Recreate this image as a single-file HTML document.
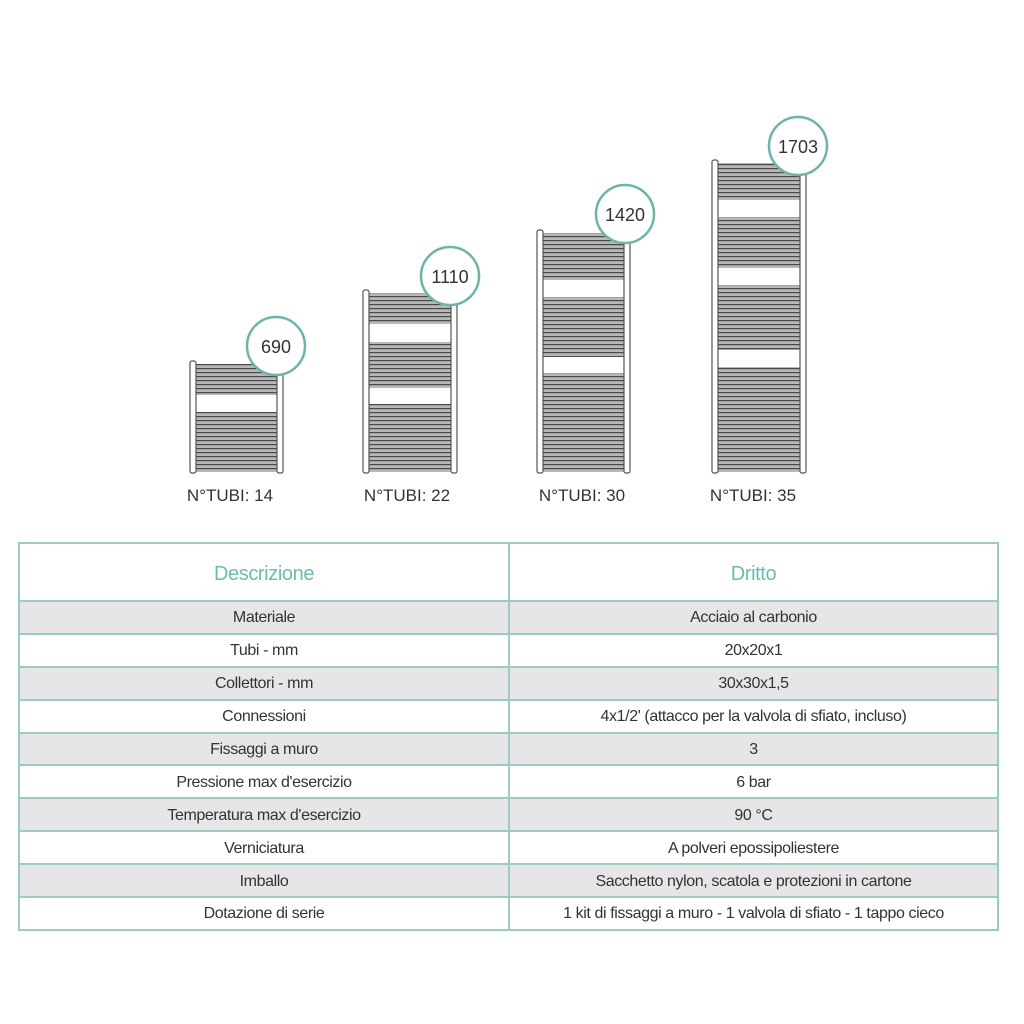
<!DOCTYPE html>
<html><head><meta charset="utf-8"><style>
body{margin:0;background:#fff;width:1024px;height:1024px;overflow:hidden;font-family:"Liberation Sans",sans-serif}
svg{position:absolute;left:0;top:0}
table{position:absolute;left:18px;top:542px;width:981px;border-collapse:collapse;font-size:16px;color:#333;letter-spacing:-0.4px}
td{border:2px solid #9ccbc4;text-align:center;padding:2px 0 0 0;height:28.9px}
tr.h td{height:52px;color:#6fbab0;font-size:20px;padding-top:4px}
tr.g td{background:#e6e6e8}
</style></head><body>
<svg width="1024" height="540">
<defs>
<pattern id="st" width="10" height="4" patternUnits="userSpaceOnUse">
<rect width="10" height="4" fill="#b8b8b8"/><rect y="0" width="10" height="1.2" fill="#4a4a4a"/>
</pattern>
</defs>
<g stroke="#555" stroke-width="1.2">
<rect x="196" y="364" width="81" height="108" fill="url(#st)" stroke="none"/>
<rect x="196" y="395" width="81" height="17" fill="#fff" stroke="none"/>
<rect x="190" y="361" width="6" height="112" rx="2" fill="#fff"/>
<rect x="277" y="361" width="6" height="112" rx="2" fill="#fff"/>
<rect x="369" y="293" width="82" height="179" fill="url(#st)" stroke="none"/>
<rect x="369" y="324" width="82" height="18" fill="#fff" stroke="none"/>
<rect x="369" y="388" width="82" height="16" fill="#fff" stroke="none"/>
<rect x="363" y="290" width="6" height="183" rx="2" fill="#fff"/>
<rect x="451" y="290" width="6" height="183" rx="2" fill="#fff"/>
<rect x="543" y="233" width="81" height="239" fill="url(#st)" stroke="none"/>
<rect x="543" y="280" width="81" height="17" fill="#fff" stroke="none"/>
<rect x="543" y="357" width="81" height="16" fill="#fff" stroke="none"/>
<rect x="537" y="230" width="6" height="243" rx="2" fill="#fff"/>
<rect x="624" y="230" width="6" height="243" rx="2" fill="#fff"/>
<rect x="718" y="163" width="82" height="309" fill="url(#st)" stroke="none"/>
<rect x="718" y="200" width="82" height="17" fill="#fff" stroke="none"/>
<rect x="718" y="268" width="82" height="17" fill="#fff" stroke="none"/>
<rect x="718" y="350" width="82" height="17" fill="#fff" stroke="none"/>
<rect x="712" y="160" width="6" height="313" rx="2" fill="#fff"/>
<rect x="800" y="160" width="6" height="313" rx="2" fill="#fff"/>
</g>
<g fill="#fff" stroke="#6fb3aa" stroke-width="2.5">
<circle cx="276" cy="346" r="29"/><circle cx="450" cy="276" r="29"/>
<circle cx="625" cy="214" r="29"/><circle cx="798" cy="146" r="29"/>
</g>
<g font-family="Liberation Sans,sans-serif" font-size="18" fill="#333" text-anchor="middle">
<text x="276" y="353">690</text><text x="450" y="283">1110</text>
<text x="625" y="221">1420</text><text x="798" y="153">1703</text>
</g>
<g font-family="Liberation Sans,sans-serif" font-size="17" fill="#333" text-anchor="middle">
<text x="230" y="501">N°TUBI: 14</text><text x="407" y="501">N°TUBI: 22</text>
<text x="582" y="501">N°TUBI: 30</text><text x="753" y="501">N°TUBI: 35</text>
</g>
</svg>
<table>
<tr class="h"><td style="width:488px">Descrizione</td><td>Dritto</td></tr>
<tr class="g"><td>Materiale</td><td>Acciaio al carbonio</td></tr>
<tr><td>Tubi - mm</td><td>20x20x1</td></tr>
<tr class="g"><td>Collettori - mm</td><td>30x30x1,5</td></tr>
<tr><td>Connessioni</td><td>4x1/2' (attacco per la valvola di sfiato, incluso)</td></tr>
<tr class="g"><td>Fissaggi a muro</td><td>3</td></tr>
<tr><td>Pressione max d'esercizio</td><td>6 bar</td></tr>
<tr class="g"><td>Temperatura max d'esercizio</td><td>90 °C</td></tr>
<tr><td>Verniciatura</td><td>A polveri epossipoliestere</td></tr>
<tr class="g"><td>Imballo</td><td>Sacchetto nylon, scatola e protezioni in cartone</td></tr>
<tr><td>Dotazione di serie</td><td>1 kit di fissaggi a muro - 1 valvola di sfiato - 1 tappo cieco</td></tr>
</table>
</body></html>
